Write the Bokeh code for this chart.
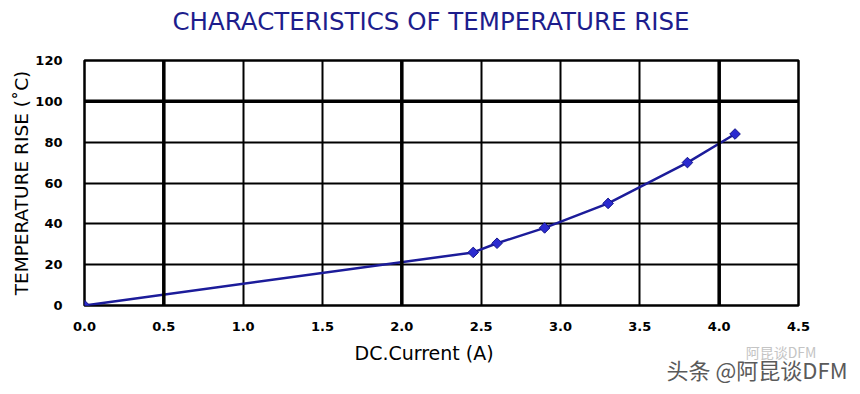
import math
from bokeh.plotting import figure
from bokeh.models import Span, FixedTicker, Range1d, Title, LinearAxis
from bokeh.embed import file_html
from bokeh.resources import INLINE

# ---- data ----
current_a = [0.0, 2.45, 2.6, 2.9, 3.3, 3.8, 4.1]
temp_rise_c = [0, 26, 30.5, 38, 50, 70, 84]
x_ticks = [0.0, 0.5, 1.0, 1.5, 2.0, 2.5, 3.0, 3.5, 4.0, 4.5]
x_tick_labels = ["0.0", "0.5", "1.0", "1.5", "2.0", "2.5", "3.0", "3.5", "4.0", "4.5"]
y_ticks = [0, 20, 40, 60, 80, 100, 120]
y_tick_labels = ["0", "20", "40", "60", "80", "100", "120"]
heavy_x = [0.5, 2.0, 4.0]
heavy_y = [100]

title_text = "CHARACTERISTICS OF TEMPERATURE RISE"
x_title = "DC.Current (A)"
y_title = "TEMPERATURE RISE (\u02daC)"
watermark_main = "\u5934\u6761 @\u963f\u6606\u8c08DFM"
watermark_faint = "\u963f\u6606\u8c08DFM"
watermark_faint_at = 4.39

p = figure(width=860, height=394, output_backend="svg", toolbar_location=None,
           x_range=Range1d(0, 4.5), y_range=Range1d(0, 120),
           min_border_left=84, min_border_right=62, min_border_top=60, min_border_bottom=89)
p.background_fill_color = "white"
p.border_fill_color = "white"
p.outline_line_color = "black"
p.outline_line_width = 2.5

for ax in (p.xaxis, p.yaxis):
    ax.axis_line_color = None
    ax.major_tick_line_color = None
    ax.minor_tick_line_color = None
    ax.major_label_text_font = "DejaVu Sans"
    ax.major_label_text_font_style = "bold"
    ax.major_label_text_font_size = "13px"
    ax.major_label_text_color = "black"

p.xaxis.ticker = FixedTicker(ticks=x_ticks)
p.xaxis.major_label_overrides = {t: l for t, l in zip(x_ticks, x_tick_labels)}
p.xaxis.major_tick_out = 0
p.xaxis.major_tick_in = 0
p.xaxis.major_label_standoff = 16
p.yaxis.ticker = FixedTicker(ticks=y_ticks)
p.yaxis.major_label_overrides = {t: l for t, l in zip(y_ticks, y_tick_labels)}
p.yaxis.major_label_standoff = 16

p.yaxis.axis_label = y_title
p.yaxis.axis_label_text_font = "DejaVu Sans"
p.yaxis.axis_label_text_font_style = "normal"
p.yaxis.axis_label_text_font_size = "18.5px"
p.yaxis.axis_label_text_color = "black"
p.yaxis.axis_label_standoff = 0

p.xgrid.ticker = FixedTicker(ticks=x_ticks)
p.ygrid.ticker = FixedTicker(ticks=y_ticks)
for g in (p.xgrid, p.ygrid):
    g.grid_line_color = "black"
    g.grid_line_width = 2
    g.grid_line_alpha = 1

for xv in heavy_x:
    p.add_layout(Span(location=xv, dimension="height", line_color="black", line_width=3.5))
for yv in heavy_y:
    p.add_layout(Span(location=yv, dimension="width", line_color="black", line_width=3.5))

p.line(current_a, temp_rise_c, line_color="#1c1c9a", line_width=2.5)
p.scatter(current_a, temp_rise_c, marker="square", angle=math.pi / 4, size=7.5,
          fill_color="#2b2bd0", line_color="#16168a", line_width=1)

# spacer between frame and title, then the title on top
p.add_layout(Title(text=" ", text_font_size="1px", standoff=20), "above")
p.title = Title(text=title_text, align="left", offset=88, standoff=0, vertical_align="top",
                text_font="DejaVu Sans", text_font_size="24.5px",
                text_font_style="normal", text_color="#1d1d8c")
# x axis title as a below-title, placed left of the frame centre as in the reference
p.add_layout(Title(text=x_title, align="left", offset=270, standoff=12,
                   text_font="DejaVu Sans", text_font_size="19px",
                   text_font_style="normal", text_color="black"), "below")
# faint watermark line, as tick label of an extra bare axis
wm_axis = LinearAxis(ticker=FixedTicker(ticks=[watermark_faint_at]),
                     major_label_overrides={watermark_faint_at: watermark_faint},
                     axis_line_color=None, major_tick_line_color=None, minor_tick_line_color=None,
                     major_tick_out=0, major_tick_in=0,
                     major_label_standoff=-28, major_label_text_font="Noto Sans CJK SC",
                     major_label_text_font_size="14px", major_label_text_color="#c4c4c4")
p.add_layout(wm_axis, "below")
# main watermark
p.add_layout(Title(text=watermark_main, align="right", offset=-49, standoff=-34, vertical_align="top",
                   text_font="Noto Sans CJK SC", text_font_size="22px",
                   text_font_style="normal", text_color="#5a5a5a"), "below")

open("out.html", "w").write(file_html(p, INLINE))
